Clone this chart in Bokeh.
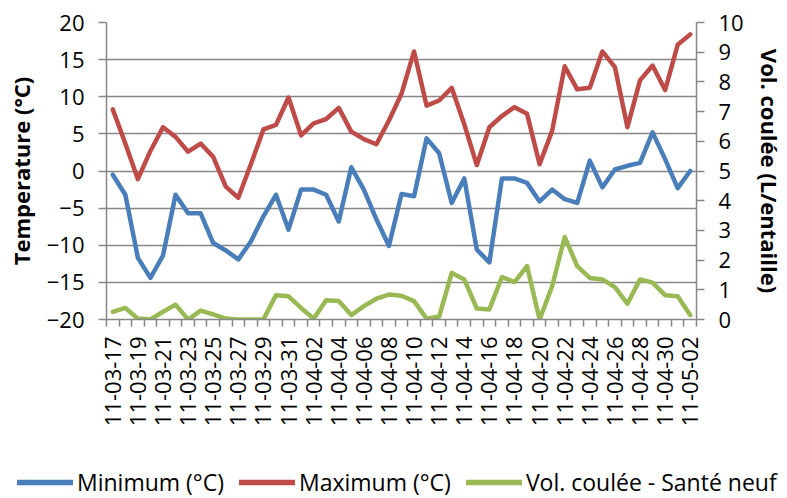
import math
import pandas as pd
from bokeh.plotting import figure
from bokeh.layouts import column
from bokeh.models import Range1d, LinearAxis, FixedTicker, Legend, LegendItem
from bokeh.embed import file_html
from bokeh.resources import INLINE

# Daily readings, 2011-03-17 .. 2011-05-02
dates = pd.date_range("2011-03-17", "2011-05-02", freq="D").strftime("%y-%m-%d").tolist()

t_min = [-0.5, -3.2, -11.7, -14.4, -11.4, -3.2, -5.7, -5.7, -9.7, -10.7,
         -11.9, -9.5, -6.1, -3.2, -7.9, -2.5, -2.5, -3.2, -6.8, 0.5,
         -2.5, -6.5, -10.1, -3.1, -3.4, 4.4, 2.4, -4.3, -1.0, -10.6,
         -12.3, -1.0, -1.0, -1.6, -4.1, -2.5, -3.8, -4.3, 1.4, -2.2,
         0.2, 0.7, 1.1, 5.2, 1.6, -2.3, 0.0]

t_max = [8.3, 3.7, -1.1, 2.7, 5.9, 4.6, 2.6, 3.7, 1.9, -2.1,
         -3.6, 0.9, 5.6, 6.2, 9.9, 4.8, 6.4, 7.0, 8.5, 5.3,
         4.3, 3.6, 6.8, 10.4, 16.1, 8.8, 9.5, 11.2, 6.3, 0.8,
         5.9, 7.4, 8.6, 7.7, 0.9, 5.4, 14.1, 11.0, 11.2, 16.1,
         14.0, 5.9, 12.2, 14.2, 10.9, 17.0, 18.4]

vol = [0.26, 0.39, 0.03, 0.0, 0.26, 0.5, 0.0, 0.3, 0.17, 0.03,
       0.0, 0.0, 0.0, 0.82, 0.78, 0.39, 0.03, 0.65, 0.62, 0.15,
       0.45, 0.7, 0.84, 0.8, 0.62, 0.03, 0.1, 1.57, 1.35, 0.37,
       0.34, 1.43, 1.26, 1.8, 0.0, 1.12, 2.78, 1.8, 1.4, 1.35,
       1.09, 0.53, 1.35, 1.24, 0.82, 0.78, 0.15]

series_names = ["Minimum (°C)", "Maximum (°C)", "Vol. coulée - Santé neuf"]
series_colors = ["#4A7EBB", "#BE4B48", "#98B954"]
series_values = [t_min, t_max, vol]

temp_ticks = [-20, -15, -10, -5, 0, 5, 10, 15, 20]
vol_ticks = list(range(11))

x = list(range(len(dates)))

FONT = "Open Sans"
GRID = "#868686"
LW = 4.5

p = figure(frame_width=590, frame_height=297,
           min_border_left=106, min_border_right=89,
           min_border_top=22, min_border_bottom=133,
           x_range=Range1d(-0.5, len(dates) - 0.5),
           y_range=Range1d(-20, 20),
           output_backend="svg", toolbar_location=None)
p.outline_line_color = None
p.background_fill_color = "white"
p.extra_y_ranges = {"vol": Range1d(0, 10)}

# category axis: labels every second day, ticks on day boundaries
p.xaxis.ticker = FixedTicker(ticks=x[::2],
                             minor_ticks=[i - 0.5 for i in range(len(dates) + 1)])
p.xaxis.major_label_overrides = {i: dates[i] for i in x[::2]}
p.xaxis.major_label_orientation = math.pi / 2
p.xaxis.major_tick_out = 0
p.xaxis.major_tick_in = 0
p.xaxis.minor_tick_out = 7
p.xaxis.minor_tick_in = 0
p.xaxis.minor_tick_line_color = GRID
p.xaxis.minor_tick_line_width = 1.5
p.xaxis.major_label_standoff = 10
p.xaxis.axis_line_color = GRID
p.xaxis.axis_line_width = 1.5
p.xaxis.major_label_text_font = FONT
p.xaxis.major_label_text_font_size = "22px"
p.xaxis.major_label_text_color = "black"

p.yaxis.ticker = FixedTicker(ticks=temp_ticks)
p.yaxis.axis_label = "Temperature (°C)"
p.yaxis.major_tick_out = 8
p.yaxis.major_tick_in = 0
p.yaxis.minor_tick_line_color = None
p.yaxis.major_tick_line_color = GRID
p.yaxis.major_tick_line_width = 1.5
p.yaxis.axis_line_color = GRID
p.yaxis.axis_line_width = 1.5
p.yaxis.major_label_standoff = 14
p.yaxis.axis_label_standoff = 8

vol_axis = LinearAxis(y_range_name="vol", ticker=FixedTicker(ticks=vol_ticks),
                      axis_label="Vol. coulée (L/entaille)")
vol_axis.major_tick_out = 8
vol_axis.major_tick_in = 0
vol_axis.minor_tick_line_color = None
vol_axis.major_tick_line_color = GRID
vol_axis.major_tick_line_width = 1.5
vol_axis.axis_line_color = GRID
vol_axis.axis_line_width = 1.5
vol_axis.major_label_standoff = 14
vol_axis.axis_label_standoff = 8
p.add_layout(vol_axis, "right")

for ax in (p.yaxis[0], vol_axis):
    ax.major_label_text_font = FONT
    ax.major_label_text_font_size = "22px"
    ax.major_label_text_color = "black"
    ax.axis_label_text_font = FONT
    ax.axis_label_text_font_size = "22px"
    ax.axis_label_text_font_style = "bold"
    ax.axis_label_text_color = "black"

p.xgrid.grid_line_color = None
p.ygrid.ticker = FixedTicker(ticks=temp_ticks)
p.ygrid.grid_line_color = GRID
p.ygrid.grid_line_width = 1.5

for vals, color in zip(series_values, series_colors):
    extra = {"y_range_name": "vol"} if vals is vol else {}
    p.line(x, vals, line_color=color, line_width=LW,
           line_join="round", line_cap="round", **extra)

# legend strip under the chart (its own frame spans the full width)
lg = figure(width=787, height=46, min_border=0,
            x_range=Range1d(0, 1), y_range=Range1d(0, 1),
            x_axis_location=None, y_axis_location=None,
            output_backend="svg", toolbar_location=None)
lg.frame_align = False
lg.outline_line_color = None
lg.xgrid.grid_line_color = None
lg.ygrid.grid_line_color = None
items = []
for name, color, vals in zip(series_names, series_colors, series_values):
    r = lg.line(x, vals, line_color=color, line_width=5.5, line_cap="round",
                visible=False)
    items.append(LegendItem(label=name, renderers=[r]))
legend = Legend(items=items, orientation="horizontal", location=(17, 0),
                padding=0, margin=0, spacing=15, label_standoff=4,
                glyph_width=56, glyph_height=24, label_height=24,
                border_line_color=None, background_fill_alpha=0,
                inactive_fill_alpha=0,
                label_text_font=FONT, label_text_font_size="23px",
                label_text_color="black")
lg.add_layout(legend)

open("out.html", "w").write(file_html(column(p, lg, spacing=0), INLINE))
